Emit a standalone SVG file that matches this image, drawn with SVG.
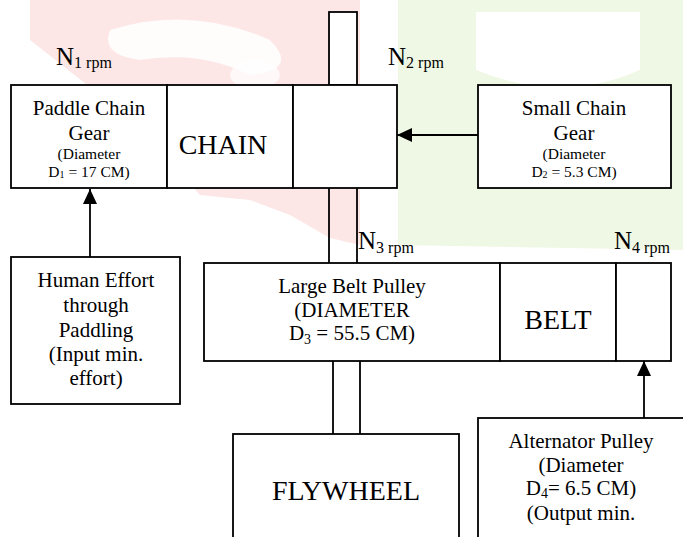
<svg xmlns="http://www.w3.org/2000/svg" width="683" height="537" viewBox="0 0 683 537" font-family="'Liberation Serif', 'DejaVu Serif', serif">
<style>
.box{fill:#fff;stroke:#000;stroke-width:1.8}
.ln{fill:none;stroke:#000;stroke-width:1.8}
text{font-family:'Liberation Serif', 'DejaVu Serif', serif;fill:#000}
.t{font-size:21px;text-anchor:middle}
.s{font-size:15.5px;text-anchor:middle}
.big{font-size:28px;text-anchor:middle}
.n{font-size:25px}
.sub{font-size:16px}
</style>
<defs>
<marker id="ah" markerUnits="userSpaceOnUse" markerWidth="15" markerHeight="14" refX="15" refY="7" orient="auto">
<path d="M0,0 L15,7 L0,14 z" fill="#000"/>
</marker>
</defs>
<g id="background">
<polygon points="30,0 360,0 360,245 330,238 290,215 250,200 200,195 160,150 100,95 30,40" fill="#fde6e6"/>
<path d="M110,30 Q190,5 270,40 Q300,70 250,75 Q200,50 140,60 Q100,55 110,30 Z" fill="#fff" opacity="0.85"/>
<ellipse cx="255" cy="75" rx="25" ry="14" fill="#fff" opacity="0.7"/>
<ellipse cx="150" cy="95" rx="45" ry="10" fill="#fff" opacity="0.7"/>
<polygon points="398,0 683,0 683,250 398,245" fill="#eff8e4"/>
<path d="M476,12 L640,12 L640,70 Q560,105 476,70 Z" fill="#fff"/>
</g>
<g id="connectors">
<rect x="329" y="12" width="28" height="73" class="box"/>
<line x1="329" y1="188" x2="329" y2="263" class="ln"/>
<line x1="357" y1="188" x2="357" y2="263" class="ln"/>
<line x1="333" y1="361" x2="333" y2="434" class="ln"/>
<line x1="360" y1="361" x2="360" y2="434" class="ln"/>
<line x1="478" y1="135" x2="397" y2="135" class="ln" marker-end="url(#ah)"/>
<line x1="90" y1="257" x2="90" y2="189" class="ln" marker-end="url(#ah)"/>
<line x1="644" y1="418" x2="644" y2="361" class="ln" marker-end="url(#ah)"/>
</g>
<g id="speed-labels">
<text x="56" y="65"><tspan class="n">N</tspan><tspan class="sub" dy="3">1 rpm</tspan></text>
<text x="388" y="65"><tspan class="n">N</tspan><tspan class="sub" dy="3">2 rpm</tspan></text>
<text x="358" y="249"><tspan class="n">N</tspan><tspan class="sub" dy="4">3 rpm</tspan></text>
<text x="614" y="249"><tspan class="n">N</tspan><tspan class="sub" dy="4">4 rpm</tspan></text>
</g>
<g id="paddle-chain-gear">
<rect x="11" y="85" width="156" height="103" class="box"/>
<text class="t" x="89" y="115">Paddle Chain</text>
<text class="t" x="89" y="140">Gear</text>
<text class="s" x="89" y="159">(Diameter</text>
<text class="s" x="89" y="177">D<tspan font-size="10px" dy="1">1</tspan><tspan dy="-1"> = 17 CM)</tspan></text>
</g>
<g id="chain">
<rect x="167" y="85" width="126" height="103" class="box"/>
<text class="big" x="223" y="154" font-size="29px">CHAIN</text>
</g>
<g id="chain-shaft-cell">
<rect x="293" y="85" width="104" height="103" class="box"/>
</g>
<g id="small-chain-gear">
<rect x="478" y="85" width="193" height="103" class="box"/>
<text class="t" x="574" y="115">Small Chain</text>
<text class="t" x="574" y="140">Gear</text>
<text class="s" x="574" y="159">(Diameter</text>
<text class="s" x="574" y="177">D<tspan font-size="10px" dy="1">2</tspan><tspan dy="-1"> = 5.3 CM)</tspan></text>
</g>
<g id="human-effort">
<rect x="11" y="257" width="169" height="147" class="box"/>
<text class="t" x="96" y="287">Human Effort</text>
<text class="t" x="96" y="312">through</text>
<text class="t" x="96" y="337">Paddling</text>
<text class="t" x="96" y="361">(Input min.</text>
<text class="t" x="96" y="385">effort)</text>
</g>
<g id="large-belt-pulley">
<rect x="204" y="263" width="296" height="98" class="box"/>
<text class="t" x="352" y="293">Large Belt Pulley</text>
<text class="t" x="352" y="317">(DIAMETER</text>
<text class="t" x="352" y="340">D<tspan font-size="14px" dy="4">3</tspan><tspan dy="-4"> = 55.5 CM)</tspan></text>
</g>
<g id="belt">
<rect x="500" y="263" width="116" height="98" class="box"/>
<text class="big" x="558" y="329" font-size="27px">BELT</text>
</g>
<g id="belt-output-cell">
<rect x="616" y="263" width="55" height="98" class="box"/>
</g>
<g id="flywheel">
<rect x="233" y="434" width="226" height="120" class="box"/>
<text class="big" x="346" y="500" font-size="27px">FLYWHEEL</text>
</g>
<g id="alternator-pulley">
<rect x="478" y="418" width="220" height="140" class="box"/>
<text class="t" x="581" y="448">Alternator Pulley</text>
<text class="t" x="581" y="472">(Diameter</text>
<text class="t" x="581" y="495">D<tspan font-size="14px" dy="3">4</tspan><tspan dy="-3">= 6.5 CM)</tspan></text>
<text class="t" x="581" y="520">(Output min.</text>
</g>
</svg>
